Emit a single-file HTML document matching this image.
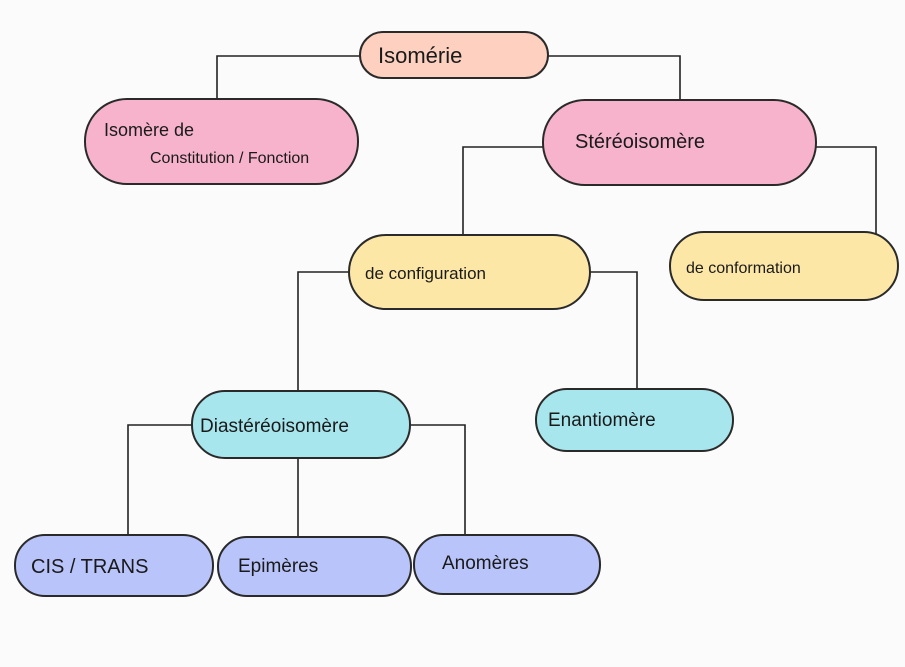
<!DOCTYPE html>
<html><head><meta charset="utf-8"><style>
html,body{margin:0;padding:0;background:#fbfbfb;}
svg{display:block}
text{font-family:"Liberation Sans",sans-serif;fill:#1a1a1a;}
</style></head><body>
<svg width="905" height="667" viewBox="0 0 905 667" xmlns="http://www.w3.org/2000/svg">
<rect width="905" height="667" fill="#fbfbfb"/>
<g stroke="#222" stroke-width="1.6" fill="none">
<polyline points="360,56 217,56 217,99"/>
<polyline points="548,56 680,56 680,100"/>
<polyline points="543,147 463,147 463,235"/>
<polyline points="816,147 876,147 876,234"/>
<polyline points="349,272 298,272 298,391"/>
<polyline points="590,272 637,272 637,389"/>
<polyline points="192,425 128,425 128,535"/>
<polyline points="298,458 298,537"/>
<polyline points="410,425 465,425 465,535"/>
</g>
<g stroke="#2a2a2a" stroke-width="2">
<rect x="360" y="32" width="188" height="46" rx="23" fill="#fdd0c0"/>
<rect x="85" y="99" width="273" height="85" rx="42" fill="#f7b3cb"/>
<rect x="543" y="100" width="273" height="85" rx="42" fill="#f7b3cb"/>
<rect x="349" y="235" width="241" height="74" rx="37" fill="#fde7a6"/>
<rect x="670" y="232" width="228" height="68" rx="34" fill="#fde7a6"/>
<rect x="192" y="391" width="218" height="67" rx="33" fill="#a8e6ee"/>
<rect x="536" y="389" width="197" height="62" rx="31" fill="#a8e6ee"/>
<rect x="15" y="535" width="198" height="61" rx="30" fill="#b9c4fa"/>
<rect x="218" y="537" width="193" height="59" rx="29" fill="#b9c4fa"/>
<rect x="414" y="535" width="186" height="59" rx="29" fill="#b9c4fa"/>
</g>
<text x="378" y="63" font-size="22">Isomérie</text>
<text x="104" y="136" font-size="18">Isomère de</text>
<text x="150" y="163" font-size="16">Constitution / Fonction</text>
<text x="575" y="148" font-size="20">Stéréoisomère</text>
<text x="365" y="279" font-size="17">de configuration</text>
<text x="686" y="273" font-size="16">de conformation</text>
<text x="200" y="432" font-size="19">Diastéréoisomère</text>
<text x="548" y="426" font-size="19">Enantiomère</text>
<text x="31" y="573" font-size="20">CIS / TRANS</text>
<text x="238" y="572" font-size="19">Epimères</text>
<text x="442" y="569" font-size="19">Anomères</text>
</svg>
</body></html>
